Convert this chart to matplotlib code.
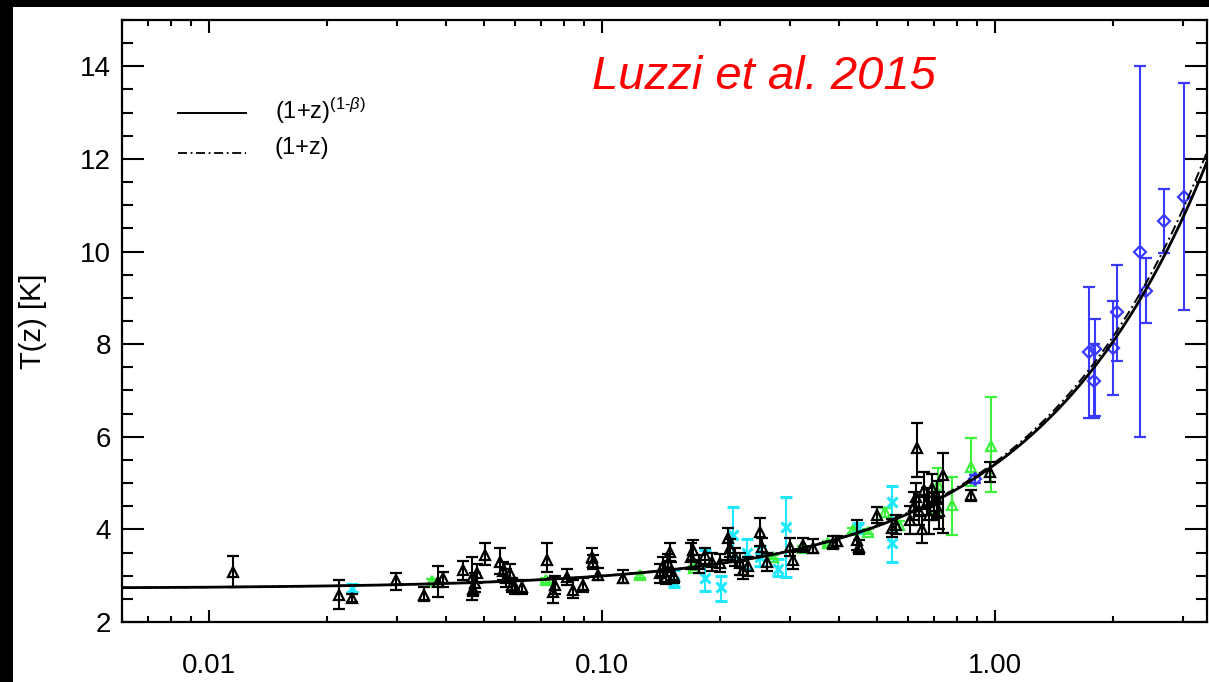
import numpy as np
import matplotlib
matplotlib.use("Agg")
import matplotlib.pyplot as plt
from matplotlib.patches import Rectangle
from matplotlib.ticker import LogLocator, NullFormatter, FixedLocator, FixedFormatter, MultipleLocator

plt.rcParams['font.family'] = ['Liberation Sans', 'DejaVu Sans']
plt.rcParams['mathtext.fontset'] = 'custom'
plt.rcParams['mathtext.rm'] = 'Liberation Sans'
plt.rcParams['mathtext.it'] = 'Liberation Sans:italic'

# ---- data: z, T, lower err, upper err ----
z_black = [0.0115, 0.0214, 0.0231, 0.0299, 0.0352, 0.0383, 0.0394, 0.0443, 0.0467, 0.0470,
           0.0475, 0.0480, 0.0504, 0.0550, 0.0560, 0.0570, 0.0583, 0.0590, 0.0600, 0.0625,
           0.0724, 0.0750, 0.0760, 0.0815, 0.0844, 0.0895, 0.0944, 0.0950, 0.0977, 0.113,
           0.140, 0.143, 0.145, 0.147, 0.149, 0.150, 0.152, 0.168, 0.170, 0.176,
           0.183, 0.190, 0.200, 0.209, 0.212, 0.218, 0.224, 0.228, 0.235, 0.252,
           0.255, 0.262, 0.301, 0.306, 0.324, 0.344, 0.387, 0.395, 0.446, 0.450,
           0.501, 0.547, 0.560, 0.608, 0.620, 0.630, 0.634, 0.640, 0.650, 0.660,
           0.670, 0.680, 0.690, 0.700, 0.710, 0.720, 0.738, 0.869, 0.970]
T_black = [3.08, 2.58, 2.52, 2.90, 2.58, 2.86, 2.95, 3.12, 2.95, 2.72,
           2.85, 3.05, 3.45, 3.29, 3.10, 2.95, 3.06, 2.80, 2.75, 2.76,
           3.34, 2.65, 2.80, 2.97, 2.69, 2.80, 3.40, 3.30, 3.01, 2.95,
           3.05, 3.20, 2.97, 3.27, 3.51, 3.10, 3.00, 3.40, 3.55, 3.25,
           3.45, 3.30, 3.27, 3.81, 3.60, 3.40, 3.27, 3.12, 3.20, 3.94,
           3.62, 3.30, 3.62, 3.34, 3.66, 3.60, 3.70, 3.75, 3.77, 3.62,
           4.31, 4.03, 4.10, 4.20, 4.50, 4.70, 5.75, 4.40, 4.00, 4.85,
           4.60, 4.30, 4.90, 4.50, 4.65, 4.40, 5.17, 4.74, 5.24]
lo_black = [0.32, 0.30, 0.08, 0.21, 0.13, 0.31, 0.20, 0.21, 0.48, 0.15,
            0.20, 0.20, 0.22, 0.25, 0.20, 0.20, 0.20, 0.15, 0.15, 0.15,
            0.26, 0.24, 0.20, 0.17, 0.17, 0.15, 0.13, 0.15, 0.11, 0.10,
            0.20, 0.20, 0.15, 0.20, 0.20, 0.20, 0.15, 0.25, 0.22, 0.20,
            0.20, 0.20, 0.20, 0.47, 0.20, 0.20, 0.25, 0.20, 0.20, 0.30,
            0.20, 0.20, 0.20, 0.20, 0.15, 0.12, 0.13, 0.10, 0.21, 0.15,
            0.17, 0.20, 0.20, 0.30, 0.30, 0.30, 0.62, 0.30, 0.30, 0.40,
            0.30, 0.40, 0.30, 0.30, 0.40, 0.40, 1.25, 0.12, 0.22]
hi_black = [0.34, 0.33, 0.08, 0.16, 0.17, 0.35, 0.12, 0.20, 0.45, 0.15,
            0.20, 0.20, 0.26, 0.30, 0.20, 0.20, 0.20, 0.15, 0.15, 0.15,
            0.36, 0.30, 0.20, 0.17, 0.21, 0.15, 0.20, 0.15, 0.15, 0.17,
            0.20, 0.20, 0.15, 0.20, 0.20, 0.20, 0.15, 0.30, 0.22, 0.20,
            0.15, 0.20, 0.20, 0.22, 0.20, 0.20, 0.22, 0.20, 0.20, 0.30,
            0.20, 0.20, 0.20, 0.20, 0.15, 0.20, 0.15, 0.10, 0.43, 0.15,
            0.17, 0.20, 0.20, 0.30, 0.30, 0.30, 0.54, 0.30, 0.30, 0.40,
            0.30, 0.40, 0.30, 0.30, 0.40, 0.40, 0.48, 0.12, 0.21]

z_green = [0.0369, 0.0721, 0.125, 0.171, 0.272, 0.324, 0.376, 0.435, 0.475, 0.525,
           0.570, 0.716, 0.778, 0.869, 0.977]
T_green = [2.88, 2.90, 3.01, 3.17, 3.40, 3.60, 3.70, 3.98, 3.95, 4.37,
           4.09, 4.96, 4.52, 5.34, 5.80]
lo_green = [0.05, 0.05, 0.05, 0.05, 0.05, 0.05, 0.05, 0.06, 0.06, 0.10,
            0.10, 0.60, 0.64, 0.40, 1.00]
hi_green = [0.05, 0.05, 0.05, 0.05, 0.05, 0.05, 0.05, 0.06, 0.06, 0.10,
            0.10, 0.36, 0.61, 0.63, 1.05]

z_cyan = [0.0231, 0.152, 0.183, 0.201, 0.215, 0.234, 0.252, 0.280, 0.294, 0.448, 0.547, 0.547]
T_cyan = [2.73, 2.86, 2.95, 2.76, 3.88, 3.50, 3.40, 3.15, 4.05, 4.03, 4.59, 3.70]
lo_cyan = [0.08, 0.11, 0.28, 0.31, 0.48, 0.35, 0.20, 0.15, 1.08, 0.10, 0.35, 0.40]
hi_cyan = [0.08, 0.26, 0.60, 0.23, 0.60, 0.30, 0.25, 0.20, 0.65, 0.10, 0.34, 0.25]

z_blue = [0.89, 1.73, 1.79, 1.78, 1.99, 2.04, 2.34, 2.42, 2.69, 3.03]
T_blue = [5.09, 7.83, 7.89, 7.20, 7.91, 8.69, 10.0, 9.14, 10.65, 11.17]
lo_blue = [0.08, 1.43, 1.45, 0.80, 1.01, 1.06, 4.0, 0.69, 0.69, 2.44]
hi_blue = [0.08, 1.40, 0.65, 0.80, 1.02, 1.03, 4.0, 0.71, 0.71, 2.47]

# model T(z) = T0 (1+z)^(1-beta)
T0 = 2.725
beta = 0.012

W, H = 1209, 682
fig = plt.figure(figsize=(W / 100, H / 100), dpi=100, facecolor='black')
fig.patches.append(Rectangle((13 / W, 0), 1, 1 - 7 / H, transform=fig.transFigure,
                             facecolor='white', edgecolor='none', zorder=-10))
ax = fig.add_axes([122 / W, (H - 622) / H, (1207 - 122) / W, (622 - 20) / H])
ax.set_facecolor('white')

zz = np.logspace(np.log10(0.006), np.log10(3.5), 400)
ax.plot(zz, T0 * (1 + zz) ** (1 - beta), color='black', lw=2.0, zorder=5)
ax.plot(zz, T0 * (1 + zz), color='black', lw=1.4, ls=(0, (5, 2, 1, 2)), zorder=5)

ekw = dict(capsize=4, elinewidth=1.5, capthick=1.5, ls='none', markersize=7.5)
ax.errorbar(z_cyan, T_cyan, yerr=[lo_cyan, hi_cyan], fmt='x', color='#1ee8ff',
            mew=2.2, zorder=3, **ekw)
ax.errorbar(z_green, T_green, yerr=[lo_green, hi_green], fmt='^', color='#3cf23c',
            mfc='none', mew=1.6, zorder=3, **ekw)
ax.errorbar(z_black, T_black, yerr=[lo_black, hi_black], fmt='^', color='black',
            mfc='none', mew=1.6, zorder=4, **ekw)
ax.errorbar(z_blue, T_blue, yerr=[lo_blue, hi_blue], fmt='D', color='#3a3aff',
            mfc='none', mew=1.6, zorder=4, **dict(ekw, markersize=6))

ax.set_xscale('log')
ax.set_xlim(0.006, 3.46)
ax.set_ylim(2, 15)
ax.xaxis.set_major_locator(FixedLocator([0.01, 0.1, 1.0]))
ax.xaxis.set_major_formatter(FixedFormatter(['0.01', '0.10', '1.00']))
ax.xaxis.set_minor_locator(LogLocator(base=10, subs=np.arange(2, 10)))
ax.xaxis.set_minor_formatter(NullFormatter())
ax.yaxis.set_major_locator(MultipleLocator(2))
ax.yaxis.set_minor_locator(MultipleLocator(0.5))

ax.tick_params(axis='both', which='both', direction='in', top=True, right=True,
               width=1.5, labelsize=20, colors='black')
ax.tick_params(axis='x', which='major', length=9, pad=22)
ax.tick_params(axis='x', which='minor', length=4.5)
ax.tick_params(axis='y', which='major', length=16, pad=8)
ax.tick_params(axis='y', which='minor', length=8)
for s in ax.spines.values():
    s.set_linewidth(1.6)

fig.text(33 / W, 1 - 321 / H, 'T(z) [K]', rotation=90, ha='center', va='center', fontsize=21)

# legend drawn by hand
ax.plot([0.052, 0.114], [0.846, 0.846], transform=ax.transAxes, color='black', lw=1.4)
ax.plot([0.052, 0.114], [0.779, 0.779], transform=ax.transAxes, color='black', lw=1.3,
        ls=(0, (5, 2, 1, 2)))
ax.text(0.141, 0.85, r'(1+z)$^{(1\text{-}\beta)}$', transform=ax.transAxes, fontsize=17,
        va='center')
ax.text(0.141, 0.787, '(1+z)', transform=ax.transAxes, fontsize=17, va='center')

ax.text(0.592, 0.905, 'Luzzi et al. 2015', transform=ax.transAxes, color='#ff0000',
        fontsize=34, style='italic', ha='center', va='center')

fig.savefig('out.png', dpi=100, facecolor=fig.get_facecolor())
